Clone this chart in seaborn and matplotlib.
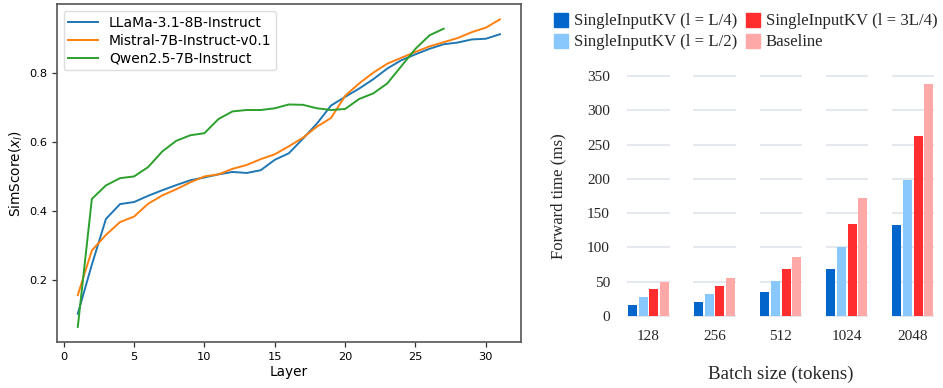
import numpy as np
import pandas as pd
import matplotlib
matplotlib.use("Agg")
import matplotlib.pyplot as plt
from matplotlib.lines import Line2D
import seaborn as sns

# ---------------- data: similarity score per layer ----------------
llama_layers = list(range(1, 32))
llama_score = [0.103, 0.245, 0.377, 0.420, 0.426, 0.444, 0.460, 0.475, 0.489, 0.497,
               0.506, 0.513, 0.510, 0.518, 0.548, 0.567, 0.609, 0.653, 0.705, 0.730,
               0.754, 0.781, 0.812, 0.836, 0.853, 0.869, 0.882, 0.887, 0.896, 0.898,
               0.911]
mistral_layers = list(range(1, 32))
mistral_score = [0.157, 0.286, 0.331, 0.368, 0.384, 0.421, 0.445, 0.463, 0.483, 0.500,
                 0.506, 0.522, 0.533, 0.550, 0.564, 0.587, 0.612, 0.644, 0.669, 0.733,
                 0.769, 0.800, 0.826, 0.843, 0.860, 0.876, 0.888, 0.900, 0.917, 0.930,
                 0.954]
qwen_layers = list(range(1, 28))
qwen_score = [0.065, 0.435, 0.474, 0.495, 0.500, 0.527, 0.572, 0.603, 0.619, 0.625,
              0.666, 0.688, 0.692, 0.692, 0.697, 0.708, 0.707, 0.697, 0.692, 0.695,
              0.724, 0.740, 0.769, 0.819, 0.869, 0.908, 0.927]
model_names = ["LLaMa-3.1-8B-Instruct", "Mistral-7B-Instruct-v0.1", "Qwen2.5-7B-Instruct"]

# ---------------- data: forward time per batch size ----------------
batch_sizes = ["128", "256", "512", "1024", "2048"]
methods = ["SingleInputKV (l = L/4)", "SingleInputKV (l = L/2)",
           "SingleInputKV (l = 3L/4)", "Baseline"]
time_l4 = [16, 20, 35, 68, 132]
time_l2 = [28, 32, 51, 100, 199]
time_3l4 = [39, 44, 68.5, 134, 263]
time_base = [50, 55.5, 86, 171.5, 338]
y_ticks = [0, 50, 100, 150, 200, 250, 300, 350]

fig = plt.figure(figsize=(9.43, 3.88), dpi=100)

# ---------------- left panel ----------------
ax1 = fig.add_axes([0.0601, 0.1178, 0.4924, 0.8719])
line_colors = ["#1f77b4", "#ff7f0e", "#2ca02c"]
for name, xs, ys, c in zip(model_names,
                           [llama_layers, mistral_layers, qwen_layers],
                           [llama_score, mistral_score, qwen_score],
                           line_colors):
    sns.lineplot(x=xs, y=ys, ax=ax1, color=c, linewidth=1.4, label=name)

ax1.set_xticks([0, 5, 10, 15, 20, 25, 30])
ax1.set_yticks([0.2, 0.4, 0.6, 0.8])
ax1.tick_params(labelsize=8.2, length=3.5, width=0.9, color="#333333")
ax1.set_xlabel("Layer", fontsize=9.8, labelpad=2)
ax1.set_ylabel(r"SimScore($x_l$)", fontsize=9.8, labelpad=3)
for s in ax1.spines.values():
    s.set_color("#555555")
    s.set_linewidth(1.2)
ax1.legend(loc="upper left", fontsize=10, labelspacing=0.28, handlelength=2.1,
           borderpad=0.35, frameon=True, edgecolor="#dddddd", framealpha=1)

# ---------------- right panel ----------------
serif = "Liberation Serif"
text_col = "#262626"
bar_colors = ["#0066cc", "#88c8fc", "#ff2d2d", "#ffa8a8"]

df = pd.DataFrame({
    "batch": batch_sizes * 4,
    "time": time_l4 + time_l2 + time_3l4 + time_base,
    "method": np.repeat(methods, len(batch_sizes)),
})

ax2 = fig.add_axes([0.6526, 0.1820, 0.3449, 0.6400])
sns.barplot(data=df, x="batch", y="time", hue="method", hue_order=methods,
            order=batch_sizes, palette=bar_colors, width=0.648, gap=0.16,
            errorbar=None, legend=False, ax=ax2, zorder=3, saturation=1)

# horizontal guide segments under each group of bars
for i in range(len(batch_sizes)):
    ax2.hlines(y_ticks, i - 0.32, i + 0.32, colors="#e6e8f0", linewidth=1.5, zorder=1)

ax2.set_xlim(-0.5, 4.42)
ax2.set_ylim(-2, 360)
ax2.set_yticks(y_ticks)
ax2.tick_params(length=0, labelsize=11, labelcolor=text_col)
ax2.tick_params(axis="y", pad=4)
ax2.tick_params(axis="x", pad=9)
for lab in ax2.get_xticklabels() + ax2.get_yticklabels():
    lab.set_fontfamily(serif)
for s in ax2.spines.values():
    s.set_visible(False)
ax2.set_xlabel("Batch size (tokens)", fontsize=13.7, family=serif, color=text_col)
ax2.set_ylabel("Forward time (ms)", fontsize=12.1, family=serif, color=text_col)
ax2.xaxis.set_label_coords(0.509, -0.194)
ax2.yaxis.set_label_coords(-0.152, 0.489)

handles = [Line2D([0], [0], marker="s", linestyle="none", markersize=9.5,
                  markerfacecolor=c, markeredgecolor=c) for c in bar_colors]
fig.legend(handles, methods, ncol=2, loc="upper left",
           bbox_to_anchor=(0.574, 1.0), frameon=False,
           prop={"family": serif, "size": 12.1}, labelcolor=text_col,
           handlelength=0.8, handletextpad=0.35, columnspacing=0.55,
           labelspacing=0.3, borderpad=0.3)

fig.savefig("out.png", dpi=100)
